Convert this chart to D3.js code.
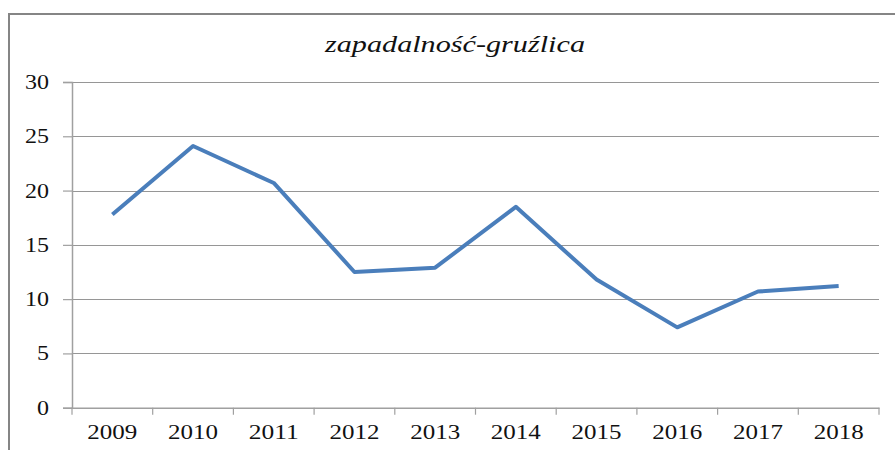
<!DOCTYPE html>
<html>
<head>
<meta charset="utf-8">
<script src="https://cdn.jsdelivr.net/npm/d3@7"></script>
<style>
  html, body { margin: 0; padding: 0; background: #fff; }
  svg { display: block; }
</style>
</head>
<body>
<svg id="chart" width="895" height="450"></svg>
<script>
const categories = ["2009","2010","2011","2012","2013","2014","2015","2016","2017","2018"];
const values = [17.8, 24.1, 20.7, 12.5, 12.9, 18.5, 11.8, 7.4, 10.7, 11.2];
const yTicks = [0, 5, 10, 15, 20, 25, 30];
const title = "zapadalność-gruźlica";

(function () {
const svg = d3.select("#chart");
const pLeft = 72, pRight = 879, pTop = 82, pBottom = 407.7;
const FONT = "'Liberation Serif', 'Times New Roman', Times, serif";

// outer border (extends beyond the visible frame on right & bottom)
svg.append("rect")
  .attr("x", 9).attr("y", 14)
  .attr("width", 900).attr("height", 450)
  .attr("fill", "none").attr("stroke", "#858585").attr("stroke-width", 2);

const x = d3.scaleBand().domain(categories).range([pLeft, pRight]).padding(0);
const y = d3.scaleLinear().domain([0, 30]).range([pBottom, pTop]);

// gridlines
svg.append("g").selectAll("line").data(yTicks.filter(d => d > 0)).join("line")
  .attr("x1", pLeft).attr("x2", pRight)
  .attr("y1", d => Math.round(y(d)) + 0.5).attr("y2", d => Math.round(y(d)) + 0.5)
  .attr("stroke", "#969696").attr("stroke-width", 1);

// y axis
const yAxis = svg.append("g").attr("transform", `translate(${pLeft},0)`)
  .call(d3.axisLeft(y).tickValues(yTicks).tickSize(9).tickPadding(0).tickFormat(d3.format("d")));
yAxis.select(".domain").attr("stroke", "#a0a0a0").attr("stroke-width", 1.5);
yAxis.selectAll(".tick line").attr("stroke", "#a0a0a0").attr("stroke-width", 1.2);
yAxis.selectAll(".tick text").remove();
svg.append("g").selectAll("text").data(yTicks).join("text")
  .attr("x", 49).attr("y", d => y(d) + 7)
  .attr("text-anchor", "end")
  .attr("textLength", d => String(d).length * 12)
  .attr("lengthAdjust", "spacingAndGlyphs")
  .style("font-family", FONT).attr("font-size", 20)
  .attr("fill", "#111")
  .text(d => d);

// x axis
const xAxis = svg.append("g").attr("transform", `translate(0,${pBottom})`)
  .call(d3.axisBottom(x).tickSize(0).tickFormat(""));
xAxis.select(".domain").attr("stroke", "#a0a0a0").attr("stroke-width", 1.5);
xAxis.selectAll(".tick").remove();
const bounds = categories.map(c => x(c)).concat([x(categories[categories.length - 1]) + x.bandwidth()]);
svg.append("g").selectAll("line").data(bounds).join("line")
  .attr("x1", d => d).attr("x2", d => d)
  .attr("y1", pBottom).attr("y2", pBottom + 7)
  .attr("stroke", "#a0a0a0").attr("stroke-width", 1.2);
svg.append("g").selectAll("text").data(categories).join("text")
  .attr("x", d => x(d) + x.bandwidth() / 2).attr("y", 439)
  .attr("text-anchor", "middle")
  .attr("textLength", 50)
  .attr("lengthAdjust", "spacingAndGlyphs")
  .style("font-family", FONT).attr("font-size", 20)
  .attr("fill", "#111")
  .text(d => d);

// line
const line = d3.line()
  .x((d, i) => x(categories[i]) + x.bandwidth() / 2)
  .y(d => y(d));
svg.append("path").datum(values)
  .attr("d", line)
  .attr("fill", "none")
  .attr("stroke", "#4a7ebb")
  .attr("stroke-width", 4)
  .attr("stroke-linejoin", "round");

// title
svg.append("text")
  .attr("x", 455).attr("y", 52)
  .attr("text-anchor", "middle")
  .attr("textLength", 260)
  .attr("lengthAdjust", "spacingAndGlyphs")
  .style("font-family", FONT).style("font-style", "italic")
  .attr("font-size", 23)
  .attr("fill", "#111")
  .text(title);
})();
</script>
</body>
</html>
